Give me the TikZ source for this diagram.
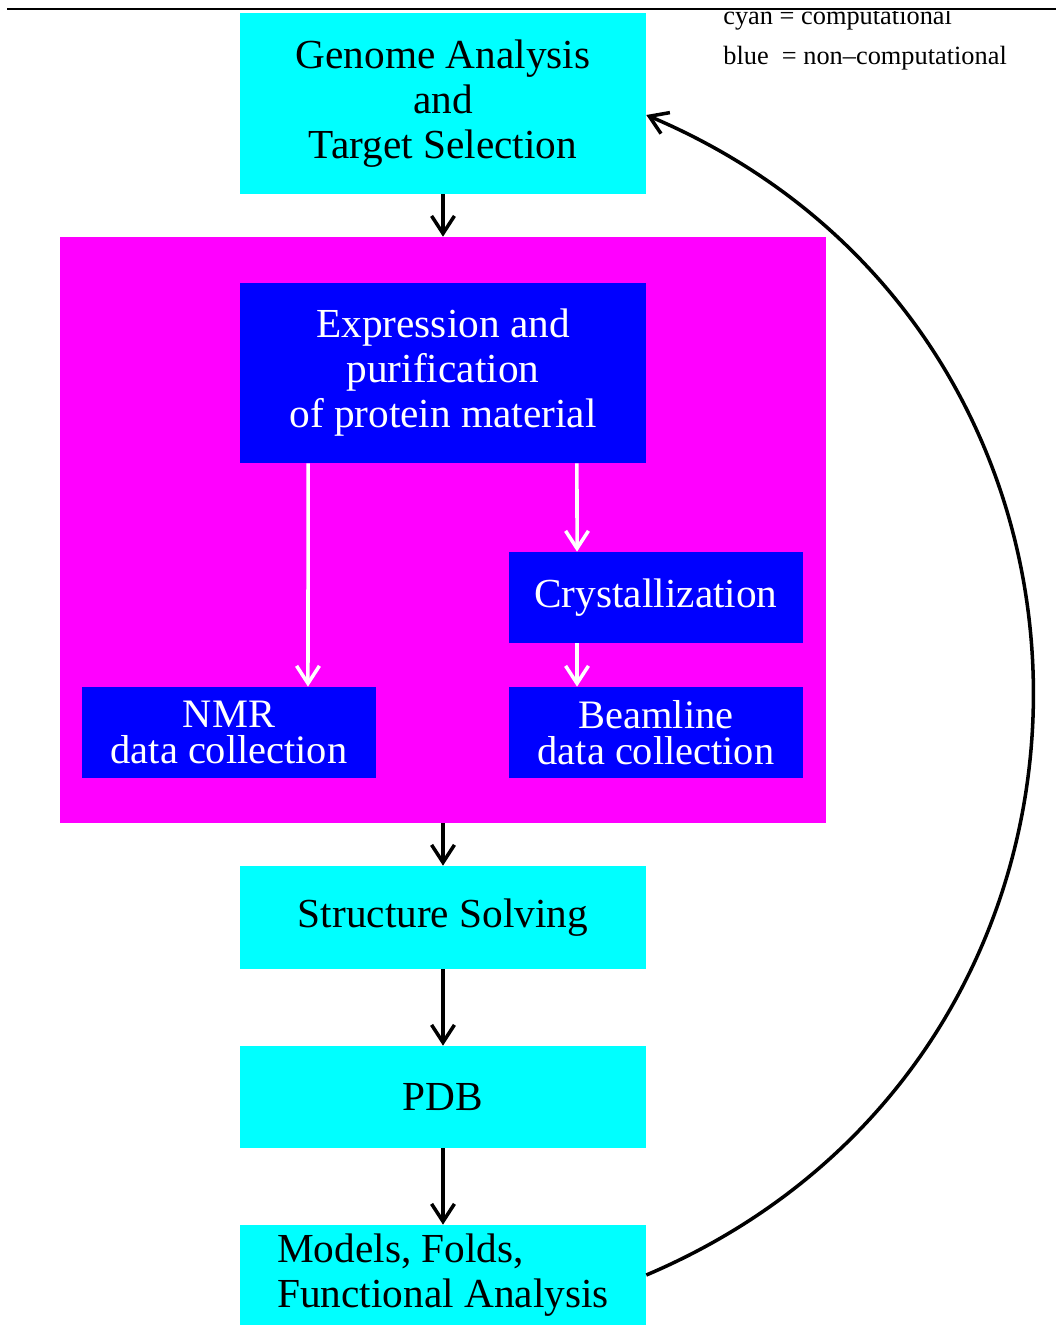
\documentclass[tikz,border=0pt]{standalone}
\usepackage{fontspec}
\setmainfont{Liberation Serif}
\usetikzlibrary{arrows.meta}
\definecolor{comp}{RGB}{0,255,255}
\definecolor{noncomp}{RGB}{0,0,255}
\definecolor{stage}{RGB}{255,0,255}
\tikzset{
  compbox/.style={fill=comp, text=black, inner sep=0pt, align=center,
    font=\fontsize{23.5}{25.6}\selectfont},
  labbox/.style={fill=noncomp, text=white, inner sep=0pt, align=center,
    font=\fontsize{23.5}{25.6}\selectfont},
  wide/.style={minimum width=8.12cm},
  narrow/.style={minimum width=5.88cm, minimum height=1.82cm},
  tight/.style={font=\fontsize{23}{20.5}\selectfont},
  legend/.style={anchor=base west, inner sep=0pt, font=\fontsize{15}{17}\selectfont},
  flow/.style={-{Straight Barb[length=10pt,width=13pt]}, line width=2pt},
  wflow/.style={flow, draw=white}
}

\begin{document}
\begin{tikzpicture}[x=0.02cm, y=-0.02cm]
    \useasboundingbox (0,0) rectangle (1056,1325);
    % legend
    \begin{scope}
      \clip (0,11) rectangle (1056,40);
      \node[legend] (lcomp) at (723,24) {cyan = computational};
    \end{scope}
    \node[legend] (lnoncomp) at (723,64) {blue \ = non--computational};
    \draw[line width=0.06cm] (7,9) -- (1056,9);
    % stages
    \node[compbox, wide, minimum height=3.62cm] (genome) at (443,103.5)
      {Genome Analysis\\and\\Target Selection};
    \node[fill=stage, inner sep=0pt, minimum width=15.32cm, minimum height=11.72cm]
      (stage) at (443,530) {};
    \node[labbox, wide, minimum height=3.6cm] (expr) at (443,373)
      {Expression and\\purification\\of protein material};
    \node[labbox, narrow] (cryst) at (656,597.5) {Crystallization};
    \node[labbox, narrow, tight] (nmr) at (229,732.5) {NMR\\data collection};
    \node[labbox, narrow, tight] (beam) at (656,732.5) {Beamline\\data collection};
    \node[compbox, wide, minimum height=2.06cm] (solve) at (443,917.5) {Structure Solving};
    \node[compbox, wide, minimum height=2.04cm] (pdb) at (443,1097) {PDB};
    \node[compbox, wide, minimum height=2cm, align=left] (models) at (443,1275)
      {Models, Folds,\\Functional Analysis};
    % connectors
    \draw[flow] (genome) -- (stage);
    \draw[wflow] ([xshift=-2.7cm]expr.south) -- ([xshift=1.58cm]nmr.north);
    \draw[wflow] ([xshift=2.68cm]expr.south) -- ([xshift=-1.58cm]cryst.north);
    \draw[wflow] ([xshift=-1.58cm]cryst.south) -- ([xshift=-1.58cm]beam.north);
    \draw[flow] (stage) -- (solve);
    \draw[flow] (solve) -- (pdb);
    \draw[flow] (pdb) -- (models);
    \draw[flow] (models.east) to[out=23, in=-23, distance=11.2cm]
      ([yshift=-0.23cm]genome.east);
\end{tikzpicture}
\end{document}
